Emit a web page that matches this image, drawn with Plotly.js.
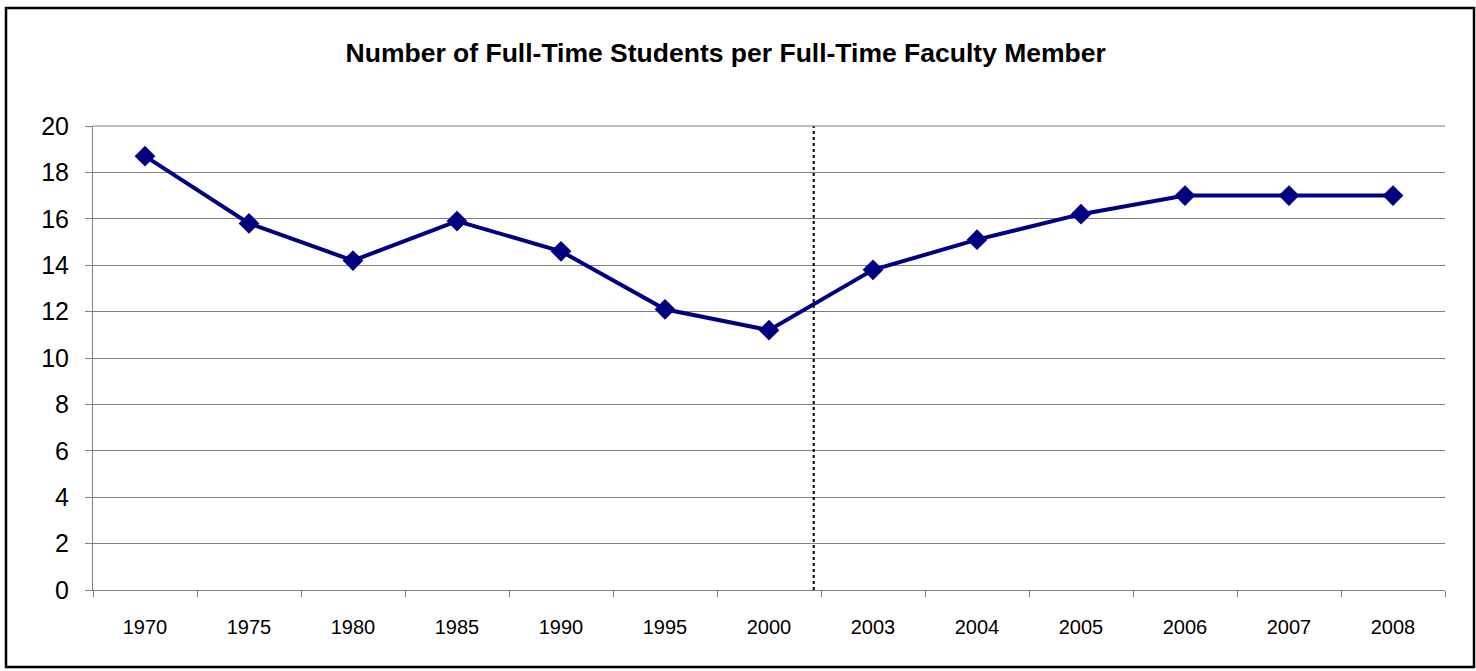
<!DOCTYPE html>
<html>
<head>
<meta charset="utf-8">
<script src="https://cdn.plot.ly/plotly-3.0.1.min.js"></script>
<style>html,body{margin:0;padding:0;background:#fff;}#chart{width:1476px;height:671px;}</style>
</head>
<body>
<div id="chart"></div>
<script>
const years = ["1970","1975","1980","1985","1990","1995","2000","2003","2004","2005","2006","2007","2008"];
const ratio = [18.7,15.8,14.2,15.9,14.6,12.1,11.2,13.8,15.1,16.2,17.0,17.0,17.0];
const yTicks = [0,2,4,6,8,10,12,14,16,18,20];
const dividerPosition = 6.43;

const W = 1476, H = 671, L = 93, R = 31, T = 126, B = 81;
const pw = W - L - R, ph = H - T - B;
const px = v => (v - L) / pw;
const py = v => (H - B - v) / ph;

const trace = {
  x: years, y: ratio, type: 'scatter', mode: 'lines+markers',
  line: {color: '#000080', width: 4},
  marker: {symbol: 'diamond', size: 16, color: '#000080'},
  hoverinfo: 'x+y'
};

const layout = {
  width: W, height: H,
  margin: {l: L, r: R, t: T, b: B},
  paper_bgcolor: '#ffffff', plot_bgcolor: '#ffffff',
  showlegend: false,
  font: {family: 'Liberation Sans, Arial, sans-serif', color: '#000'},
  title: {text: '<b>Number of Full-Time Students per Full-Time Faculty Member</b>',
          font: {size: 26.5, family: 'Liberation Sans, Arial, sans-serif', color: '#000'},
          x: 0.468, xref: 'paper', xanchor: 'center', y: 0.921, yanchor: 'middle'},
  xaxis: {type: 'category', range: [-0.5, 12.5], tickson: 'boundaries',
          ticks: 'outside', ticklen: 6, tickcolor: '#808080', tickwidth: 1,
          showline: true, linecolor: '#808080', linewidth: 1,
          showgrid: false, zeroline: false,
          tickfont: {size: 20}, ticklabelstandoff: 19},
  yaxis: {range: [0, 20], tickvals: yTicks, ticktext: yTicks.map(String),
          ticks: 'outside', ticklen: 7, tickcolor: '#808080',
          showline: true, linecolor: '#808080', linewidth: 1,
          showgrid: true, gridcolor: '#808080', gridwidth: 1, zeroline: false,
          tickfont: {size: 25}, ticklabelstandoff: 11},
  shapes: [
    {type: 'line', xref: 'x', yref: 'paper', x0: dividerPosition, x1: dividerPosition, y0: 0, y1: 1,
     line: {color: '#000', width: 2, dash: 'dot'}},
    {type: 'line', xref: 'paper', yref: 'paper', x0: 0, x1: 1, y0: 1, y1: 1,
     line: {color: '#808080', width: 1}},
    {type: 'rect', xref: 'paper', yref: 'paper', x0: px(6), x1: px(1474), y0: py(667), y1: py(8),
     line: {color: '#000', width: 2.5}, fillcolor: 'rgba(0,0,0,0)', layer: 'above'}
  ]
};

Plotly.newPlot('chart', [trace], layout, {displayModeBar: false, staticPlot: true});
</script>
</body>
</html>
